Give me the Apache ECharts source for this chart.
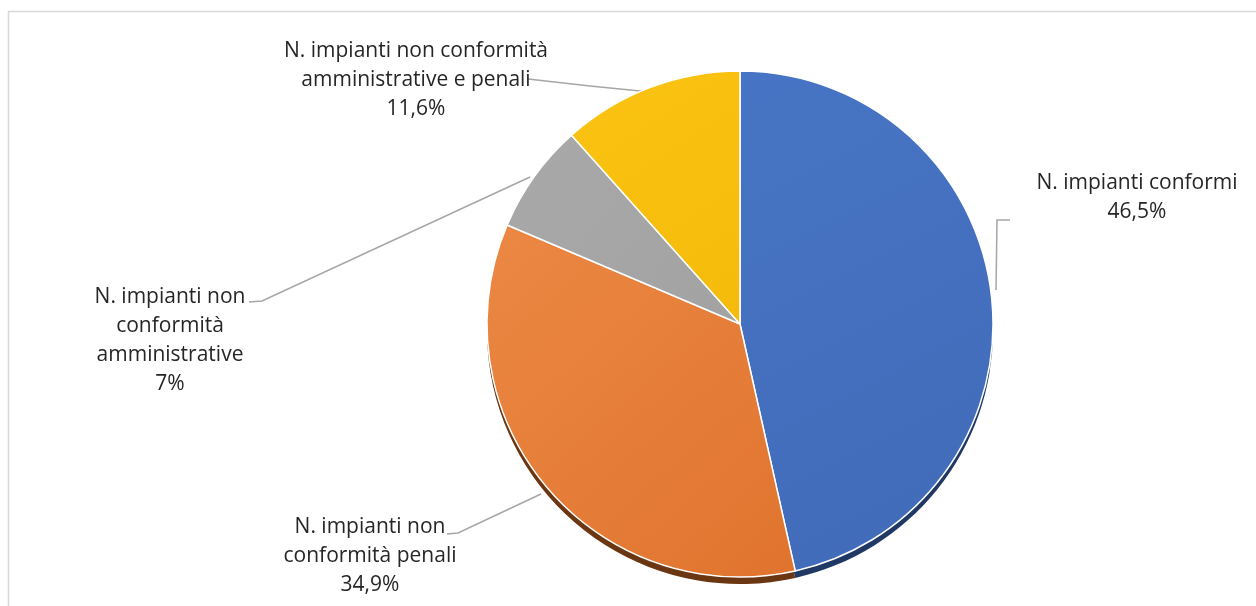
<!DOCTYPE html>
<html>
<head>
<meta charset="utf-8">
<script src="https://cdn.jsdelivr.net/npm/echarts@6/dist/echarts.min.js"></script>
<style>
  html, body { margin: 0; padding: 0; background: #fff; }
  #chart { width: 1256px; height: 606px; }
</style>
</head>
<body>
<div id="chart"></div>
<script>
// dati (senso orario dalle ore 12)
const names = [
  'N. impianti conformi',
  'N. impianti non conformità penali',
  'N. impianti non conformità amministrative',
  'N. impianti non conformità amministrative e penali'
]
const labelText = [
  'N. impianti conformi',
  'N. impianti non\nconformità penali',
  'N. impianti non\nconformità\namministrative',
  'N. impianti non conformità\namministrative e penali'
]
const values = [46.5, 34.9, 7, 11.6]

const faceColors = [
  ['#4774c4', '#416bb9'],
  ['#eb8844', '#e0742e'],
  ['#a9a9a9', '#a2a2a2'],
  ['#fbc313', '#f5bb0a']
]
const depthColors = ['#1f3864', '#6b3612', '#5a5a5a', '#7f6000']

// posizione etichette e linee guida
const labelPos = [
  { x: 1137, y: 198, line: [[996, 290], [997, 220], [1010, 220]] },
  { x: 370, y: 556, line: [[541, 494], [458, 533], [447, 534]] },
  { x: 170, y: 341, line: [[530, 177], [262, 301], [249, 302]] },
  { x: 416, y: 80, line: [[650, 92], [590, 86], [528, 79]] }
]

const pct = v => String(v).replace('.', ',') + '%'

const chart = echarts.init(document.getElementById('chart'))

const grad = c => ({
  type: 'linear', x: 0, y: 0, x2: 1, y2: 1,
  colorStops: [{ offset: 0, color: c[0] }, { offset: 1, color: c[1] }]
})

chart.setOption({
  animation: false,
  graphic: [{
    type: 'rect', silent: true, z: -10,
    shape: { x: 8.5, y: 11.5, width: 1400, height: 800 },
    style: { fill: 'none', stroke: '#d9d9d9', lineWidth: 1.5 }
  }],
  series: [
    {
      // bordo 3D (spessore)
      type: 'pie', silent: true, z: 1,
      center: [740, 331], radius: 253,
      startAngle: 90, clockwise: true,
      label: { show: false }, labelLine: { show: false },
      data: values.map((v, i) => ({ value: v, name: names[i], itemStyle: { color: depthColors[i] } }))
    },
    {
      type: 'pie', z: 2,
      center: [740, 324], radius: 253,
      startAngle: 90, clockwise: true,
      itemStyle: { borderColor: '#ffffff', borderWidth: 1.5 },
      label: {
        show: true,
        color: '#262626',
        fontFamily: 'Open Sans',
        fontSize: 21,
        lineHeight: 29,
        align: 'center',
        formatter: p => labelText[p.dataIndex] + '\n' + pct(p.value)
      },
      labelLine: { show: true, lineStyle: { color: '#a6a6a6', width: 1.5 } },
      labelLayout: p => {
        const lp = labelPos[p.dataIndex]
        return {
          x: lp.x, y: lp.y,
          align: 'center', verticalAlign: 'middle',
          labelLinePoints: lp.line
        }
      },
      data: values.map((v, i) => ({ value: v, name: names[i], itemStyle: { color: grad(faceColors[i]) } }))
    }
  ]
})
</script>
</body>
</html>
